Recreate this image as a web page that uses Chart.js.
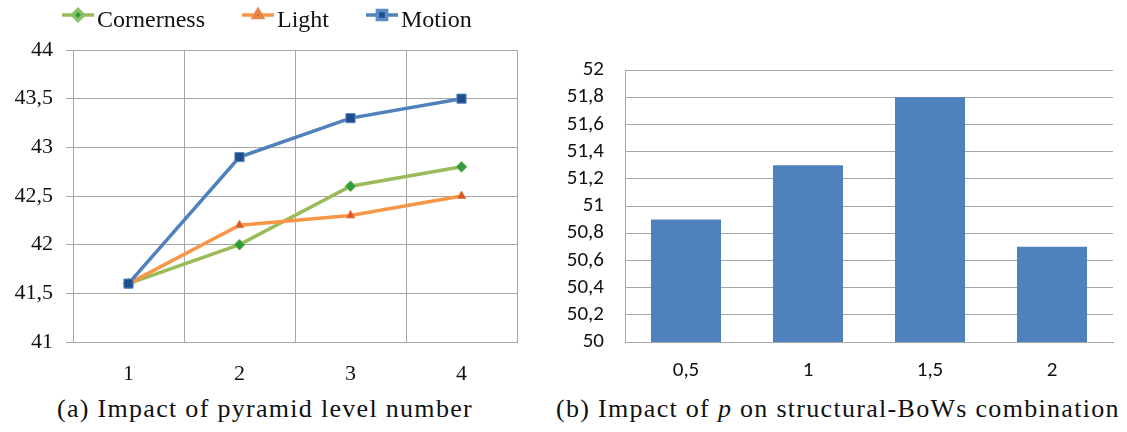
<!DOCTYPE html>
<html>
<head>
<meta charset="utf-8">
<script src="https://cdn.jsdelivr.net/npm/chart.js@4/dist/chart.umd.min.js"></script>
<style>
  html, body { margin: 0; padding: 0; background: #fff; }
  #page { position: relative; width: 1127px; height: 432px; overflow: hidden; background: #fff; }
  .panel { position: absolute; top: 0; height: 390px; }
  #left { left: 0; width: 560px; }
  #right { left: 560px; width: 567px; }
  .caption {
    position: absolute; top: 396px; white-space: nowrap;
    font-family: "Liberation Serif", "Times New Roman", serif;
    font-size: 26px; line-height: 1; letter-spacing: 1.3px; color: #111;
  }
</style>
</head>
<body>
<div id="page">
  <div class="panel" id="left"><canvas id="levels"></canvas></div>
  <div class="panel" id="right"><canvas id="pvalues"></canvas></div>
  <div class="caption" style="left:57px">(a) Impact of pyramid level number</div>
  <div class="caption" style="left:556px">(b) Impact of <i>p</i> on structural-BoWs combination</div>
</div>
<script>
// Pyramid level experiment
const levelLabels = ['1', '2', '3', '4'];
const cornerness = [41.6, 42.0, 42.6, 42.8];
const light = [41.6, 42.2, 42.3, 42.5];
const motion = [41.6, 42.9, 43.3, 43.5];

// p-value experiment
const pLabels = ['0,5', '1', '1,5', '2'];
const pScores = [50.9, 51.3, 51.8, 50.7];

const serif = '"Liberation Serif", "Times New Roman", serif';
const sans = 'Carlito, "Liberation Sans", Arial, sans-serif';
const gridGray = '#a6a6a6';
const commaFmt = v => String(Math.round(v * 10) / 10).replace('.', ',');

// Excel-style legend: a short line with the marker on it, followed by the name
const lineLegend = {
  id: 'lineLegend',
  afterDraw(chart) {
    const ctx = chart.ctx;
    ctx.save();
    ctx.font = '24px ' + serif;
    ctx.textBaseline = 'alphabetic';
    let x = 62;
    const y = 15;
    chart.data.datasets.forEach(ds => {
      ctx.strokeStyle = ds.borderColor;
      ctx.lineWidth = ds.borderWidth;
      ctx.beginPath();
      ctx.moveTo(x, y);
      ctx.lineTo(x + 32, y);
      ctx.stroke();
      ctx.fillStyle = ds.pointBackgroundColor;
      ctx.strokeStyle = ds.pointBorderColor;
      Chart.helpers.drawPoint(ctx, {
        pointStyle: ds.pointStyle, radius: ds.pointRadius, rotation: 0, borderWidth: 1
      }, x + 16, y);
      ctx.fillStyle = '#111';
      ctx.fillText(ds.label, x + 35, 27);
      x += 35 + ctx.measureText(ds.label).width + 37;
    });
    ctx.restore();
  }
};

new Chart(document.getElementById('levels'), {
  type: 'line',
  data: {
    labels: levelLabels,
    datasets: [
      { label: 'Cornerness', data: cornerness, order: 2, borderColor: '#9bbb59', borderWidth: 3.5,
        pointStyle: 'rectRot', pointRadius: 5.5, pointBackgroundColor: '#2f9e3a', pointBorderColor: '#8cc068', pointBorderWidth: 1 },
      { label: 'Light', data: light, order: 1, borderColor: '#f79646', borderWidth: 3.5,
        pointStyle: 'triangle', pointRadius: 5, pointBackgroundColor: '#d9542a', pointBorderColor: '#e8864a', pointBorderWidth: 1 },
      { label: 'Motion', data: motion, order: 0, borderColor: '#4f81bd', borderWidth: 3.5,
        pointStyle: 'rect', pointRadius: 6.5, pointBackgroundColor: '#1f4e8a', pointBorderColor: '#5b8bc6', pointBorderWidth: 1 }
    ]
  },
  options: {
    responsive: true,
    maintainAspectRatio: false,
    animation: false,
    layout: { padding: { top: 50, right: 43, left: 0, bottom: 0 } },
    plugins: { legend: { display: false }, tooltip: { enabled: false } },
    scales: {
      x: {
        offset: true,
        grid: { offset: true, color: gridGray, lineWidth: 1, drawTicks: false },
        border: { color: gridGray },
        ticks: { font: { family: serif, size: 22 }, color: '#111', padding: 19 },
        afterFit(scale) { scale.height = 48; }
      },
      y: {
        min: 41, max: 44,
        grid: { color: gridGray, lineWidth: 1, tickLength: 7 },
        border: { color: gridGray },
        ticks: { stepSize: 0.5, autoSkip: false, font: { family: serif, size: 22 }, color: '#111', padding: 13, callback: commaFmt },
        afterFit(scale) { scale.width = 73; }
      }
    }
  },
  plugins: [lineLegend]
});

new Chart(document.getElementById('pvalues'), {
  type: 'bar',
  data: {
    labels: pLabels,
    datasets: [
      { label: 'p', data: pScores, backgroundColor: '#4f81bd', borderWidth: 0,
        categoryPercentage: 1, barPercentage: 0.574 }
    ]
  },
  options: {
    responsive: true,
    maintainAspectRatio: false,
    animation: false,
    layout: { padding: { top: 70, right: 14, left: 0, bottom: 0 } },
    plugins: { legend: { display: false }, tooltip: { enabled: false } },
    scales: {
      x: {
        grid: { display: false, drawTicks: false },
        border: { display: true, color: gridGray },
        ticks: { font: { family: sans, size: 21 }, color: '#111', padding: 16 },
        afterFit(scale) { scale.height = 48; }
      },
      y: {
        min: 50, max: 52,
        grid: { color: gridGray, lineWidth: 1, drawTicks: false },
        border: { color: gridGray },
        ticks: { stepSize: 0.2, autoSkip: false, font: { family: sans, size: 21 }, color: '#111', padding: 21, callback: commaFmt },
        afterFit(scale) { scale.width = 65; }
      }
    }
  }
});
</script>
</body>
</html>
